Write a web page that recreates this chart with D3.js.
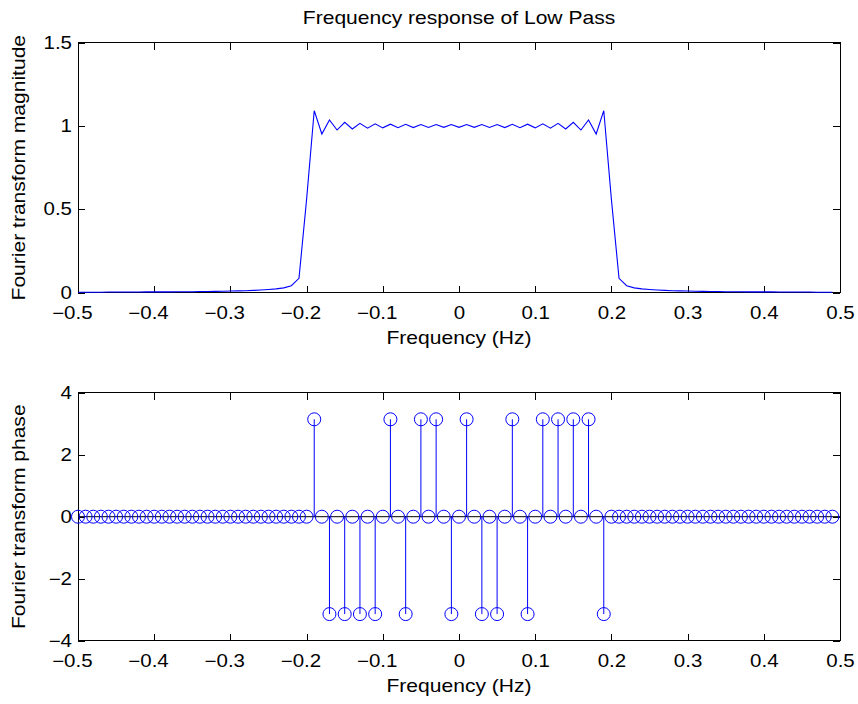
<!DOCTYPE html>
<html>
<head>
<meta charset="utf-8">
<script src="https://cdn.jsdelivr.net/npm/d3@7"></script>
<style>
body { margin: 0; background: #fff; }
</style>
</head>
<body>
<div id="chart"></div>
<script>
var w = 858;
var h = 704;
var left = 78, right = 840;
var font = "Liberation Sans, Arial, Helvetica, sans-serif";
var sx = 1.17; // the original glyphs are drawn a bit wider than Arial

// frequency grid -0.5 : 0.01 : 0.49
var freq = d3.range(-50, 50).map(function (k) { return k / 100; });

var magnitude = [
	0.003, 0.003, 0.003, 0.003, 0.004, 0.004, 0.004, 0.004, 0.004, 0.005,
	0.005, 0.005, 0.005, 0.006, 0.006, 0.006, 0.007, 0.007, 0.008, 0.009,
	0.010, 0.011, 0.012, 0.014, 0.016, 0.019, 0.023, 0.029, 0.042, 0.086,
	0.560, 1.092, 0.952, 1.036, 0.976, 1.022, 0.982, 1.016, 0.987, 1.013,
	0.989, 1.011, 0.990, 1.010, 0.991, 1.009, 0.991, 1.009, 0.992, 1.009,
	0.992, 1.009, 0.992, 1.009, 0.991, 1.009, 0.991, 1.010, 0.990, 1.011,
	0.989, 1.013, 0.987, 1.016, 0.982, 1.022, 0.976, 1.036, 0.952, 1.092,
	0.560, 0.086, 0.042, 0.029, 0.023, 0.019, 0.016, 0.014, 0.012, 0.011,
	0.010, 0.009, 0.008, 0.007, 0.007, 0.006, 0.006, 0.006, 0.005, 0.005,
	0.005, 0.005, 0.004, 0.004, 0.004, 0.004, 0.004, 0.003, 0.003, 0.003
];

var phase = [
	0, 0, 0, 0, 0, 0, 0, 0, 0, 0,
	0, 0, 0, 0, 0, 0, 0, 0, 0, 0,
	0, 0, 0, 0, 0, 0, 0, 0, 0, 0,
	0, 3.1416, 0, -3.1416, 0, -3.1416, 0, -3.1416, 0, -3.1416,
	0, 3.1416, 0, -3.1416, 0, 3.1416, 0, 3.1416, 0, -3.1416,
	0, 3.1416, 0, -3.1416, 0, -3.1416, 0, 3.1416, 0, -3.1416,
	0, 3.1416, 0, 3.1416, 0, 3.1416, 0, 3.1416, 0, -3.1416,
	0, 0, 0, 0, 0, 0, 0, 0, 0, 0,
	0, 0, 0, 0, 0, 0, 0, 0, 0, 0,
	0, 0, 0, 0, 0, 0, 0, 0, 0, 0
];

var xTicks = [-0.5, -0.4, -0.3, -0.2, -0.1, 0, 0.1, 0.2, 0.3, 0.4, 0.5];
var magTicks = [0, 0.5, 1, 1.5];
var phaseTicks = [-4, -2, 0, 2, 4];

var svg = d3.select("#chart")
	.append("svg")
	.attr("width", w)
	.attr("height", h);

var xScale = d3.scaleLinear().domain([-0.5, 0.5]).range([left, right]);
var yMag = d3.scaleLinear().domain([0, 1.5]).range([292.7, 42.7]);
var yPhase = d3.scaleLinear().domain([-4, 4]).range([640.7, 392.7]);

function fmt(d) {
	return d < 0 ? "\u2212" + Math.abs(d) : "" + d;
}

// move x/y into a transform so the glyphs can be widened
function widen(sel) {
	sel.each(function () {
		var t = d3.select(this);
		var x = +t.attr("x") || 0;
		var y = +t.attr("y") || 0;
		t.attr("transform", "translate(" + x + "," + y + ") scale(" + sx + ",1)")
			.attr("x", null).attr("y", null);
	});
}

function frame(yScale, yTicks) {
	var top = yScale.range()[1], bottom = yScale.range()[0];
	var g = svg.append("g");

	var xb = g.append("g")
		.attr("transform", "translate(0," + bottom + ")")
		.call(d3.axisBottom(xScale).tickValues(xTicks).tickFormat(fmt)
			.tickSizeInner(-7).tickSizeOuter(0).tickPadding(14));
	xb.selectAll("text").attr("dx", function (d) { return d < 0 ? "-0.3em" : null; });

	g.append("g")
		.attr("transform", "translate(0," + top + ")")
		.call(d3.axisTop(xScale).tickValues(xTicks).tickFormat("")
			.tickSizeInner(-7).tickSizeOuter(0));

	g.append("g")
		.attr("transform", "translate(" + left + ",0)")
		.call(d3.axisLeft(yScale).tickValues(yTicks).tickFormat(fmt)
			.tickSizeInner(-7).tickSizeOuter(0).tickPadding(6));

	g.append("g")
		.attr("transform", "translate(" + right + ",0)")
		.call(d3.axisRight(yScale).tickValues(yTicks).tickFormat("")
			.tickSizeInner(-7).tickSizeOuter(0));

	g.selectAll(".domain").remove();
	g.selectAll("g").attr("font-family", font).attr("font-size", 17.5);
	g.selectAll(".tick line").attr("stroke", "#000").attr("shape-rendering", "crispEdges");
	g.selectAll(".tick text").attr("fill", "#000").call(widen);

	g.append("rect")
		.attr("x", left)
		.attr("y", top)
		.attr("width", right - left)
		.attr("height", bottom - top)
		.attr("fill", "none")
		.attr("stroke", "#000")
		.attr("shape-rendering", "crispEdges");
	return g;
}

function label(txt, x, y, rot) {
	svg.append("text")
		.attr("transform", "translate(" + x + "," + y + ")" + (rot ? " rotate(" + rot + ")" : "") + " scale(" + sx + ",1)")
		.attr("text-anchor", "middle")
		.attr("font-family", font)
		.attr("font-size", 18)
		.attr("fill", "#000")
		.text(txt);
}

// --- magnitude ---
frame(yMag, magTicks);

var line = d3.line()
	.x(function (d, i) { return xScale(freq[i]); })
	.y(function (d) { return yMag(d); });

svg.append("path")
	.datum(magnitude)
	.attr("d", line)
	.attr("fill", "none")
	.attr("stroke", "#0000ff")
	.attr("stroke-width", 1.1);

label("Frequency response of Low Pass", 459, 24);
label("Frequency (Hz)", 459, 344);
label("Fourier transform magnitude", 25, 167.7, -90);

// --- phase (stem plot) ---
frame(yPhase, phaseTicks);

svg.append("g").selectAll("line")
	.data(phase)
	.enter()
	.append("line")
	.attr("x1", function (d, i) { return xScale(freq[i]); })
	.attr("x2", function (d, i) { return xScale(freq[i]); })
	.attr("y1", yPhase(0))
	.attr("y2", function (d) { return yPhase(d); })
	.attr("stroke", "#0000ff")
	.attr("stroke-width", 1);

svg.append("line")
	.attr("x1", left)
	.attr("x2", right)
	.attr("y1", yPhase(0))
	.attr("y2", yPhase(0))
	.attr("stroke", "#000")
	.attr("stroke-width", 1);

svg.append("g").selectAll("circle")
	.data(phase)
	.enter()
	.append("circle")
	.attr("cx", function (d, i) { return xScale(freq[i]); })
	.attr("cy", function (d) { return yPhase(d); })
	.attr("r", 6.5)
	.attr("fill", "none")
	.attr("stroke", "#0000ff")
	.attr("stroke-width", 1);

label("Frequency (Hz)", 459, 692);
label("Fourier transform phase", 25, 516.7, -90);
</script>
</body>
</html>
